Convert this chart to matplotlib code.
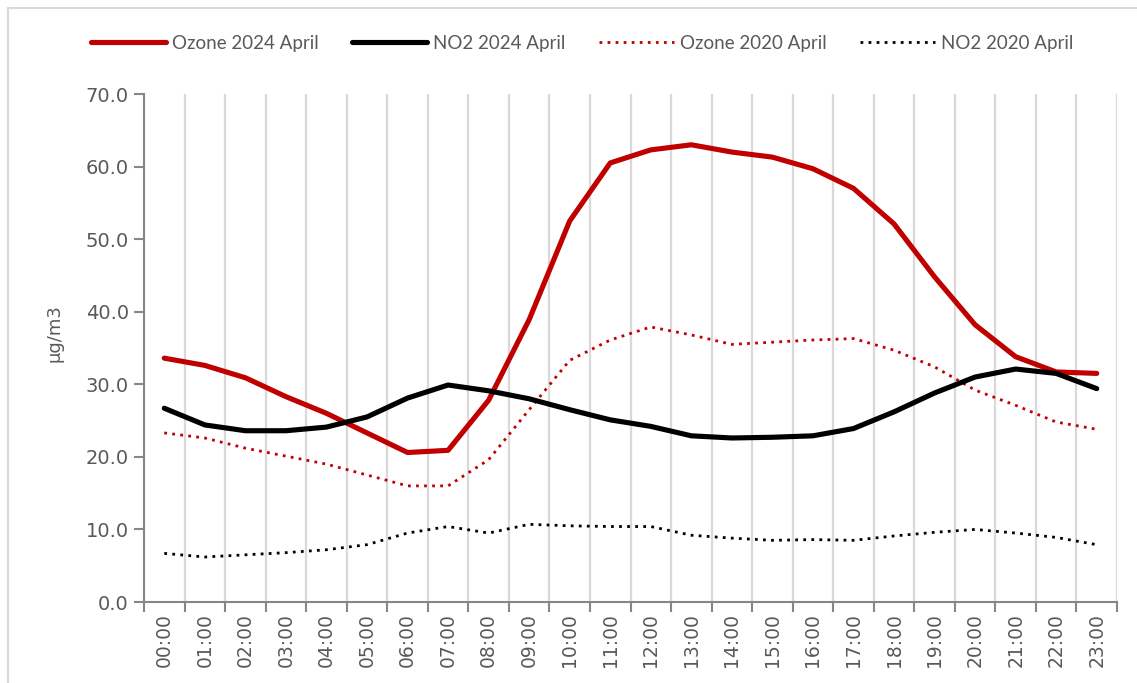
import matplotlib
matplotlib.use("Agg")
import matplotlib.pyplot as plt
from matplotlib.patches import Rectangle
from matplotlib.ticker import FixedLocator, FormatStrFormatter

hours = [f"{h:02d}:00" for h in range(24)]
ozone_2024 = [33.6, 32.6, 30.9, 28.3, 26.0, 23.3, 20.6, 20.9, 27.8, 38.9, 52.5, 60.5,
              62.3, 63.0, 62.0, 61.3, 59.7, 57.0, 52.1, 44.8, 38.2, 33.8, 31.7, 31.5]
no2_2024 = [26.7, 24.4, 23.6, 23.6, 24.1, 25.5, 28.1, 29.9, 29.1, 28.0, 26.5, 25.1,
            24.2, 22.9, 22.6, 22.7, 22.9, 23.9, 26.2, 28.8, 31.0, 32.1, 31.5, 29.4]
ozone_2020 = [23.3, 22.6, 21.2, 20.1, 19.0, 17.5, 16.0, 16.0, 19.6, 26.5, 33.3, 36.1,
              37.9, 36.8, 35.5, 35.8, 36.1, 36.3, 34.7, 32.4, 29.2, 27.1, 24.8, 23.8]
no2_2020 = [6.7, 6.2, 6.5, 6.8, 7.2, 7.9, 9.5, 10.4, 9.5, 10.7, 10.5, 10.4,
            10.4, 9.2, 8.8, 8.5, 8.6, 8.5, 9.1, 9.6, 10.0, 9.5, 8.9, 7.9]
labels = ["Ozone 2024 April", "NO2 2024 April", "Ozone 2020 April", "NO2 2020 April"]

W, H = 1137, 683
fig = plt.figure(figsize=(W / 100, H / 100), dpi=100)
ax = fig.add_axes([144 / W, 1 - 602 / H, (1117 - 144) / W, (602 - 94) / H])

x = list(range(len(hours)))
red = "#C00000"
ax.plot(x, ozone_2024, color=red, lw=3.7, solid_joinstyle="round", solid_capstyle="round", label=labels[0], zorder=4)
ax.plot(x, no2_2024, color="black", lw=3.7, solid_joinstyle="round", solid_capstyle="round", label=labels[1], zorder=4)
ax.plot(x, ozone_2020, color=red, lw=2.0, linestyle=(0, (1, 1.9)), label=labels[2], zorder=3)
ax.plot(x, no2_2020, color="black", lw=2.0, linestyle=(0, (1, 1.9)), label=labels[3], zorder=3)

ax.set_xlim(-0.5, len(hours) - 0.5)
ax.set_ylim(0, 70)
ax.set_yticks(range(0, 71, 10))
ax.yaxis.set_major_formatter(FormatStrFormatter("%.1f"))
ax.set_xticks(x)
ax.set_xticklabels(hours, rotation=90)
ax.xaxis.set_minor_locator(FixedLocator([i + 0.5 for i in range(-1, len(hours))]))
ax.grid(True, axis="x", which="minor", color="#D9D9D9", lw=1.6, zorder=0)
ax.tick_params(axis="x", which="major", length=0, pad=8, labelsize=13.5, labelcolor="#595959")
ax.tick_params(axis="x", which="minor", length=7, width=1.5, color="#868686", direction="out")
ax.tick_params(axis="y", length=7, width=1.5, color="#868686", pad=4, labelsize=14, labelcolor="#595959")

for s in ["top", "right"]:
    ax.spines[s].set_visible(False)
for s in ["left", "bottom"]:
    ax.spines[s].set_color("#868686")
    ax.spines[s].set_linewidth(1.5)

ax.set_ylabel("µg/m3", color="#595959", fontsize=13, labelpad=8)
ax.yaxis.set_label_coords(-0.083, 0.53)

leg = fig.legend(loc="center", bbox_to_anchor=(0.512, 1 - 43 / H), ncol=4, frameon=False,
                 handlelength=4.0, handletextpad=0.3, columnspacing=1.8,
                 prop={"family": "Lato", "size": 13.5})
for t in leg.get_texts():
    t.set_color("#595959")

fig.patches.append(Rectangle((8 / W, -0.1), 1.2, 1 - 8 / H + 0.1, transform=fig.transFigure,
                             fill=False, edgecolor="#D9D9D9", lw=1.5))

fig.savefig("out.png", dpi=100)
